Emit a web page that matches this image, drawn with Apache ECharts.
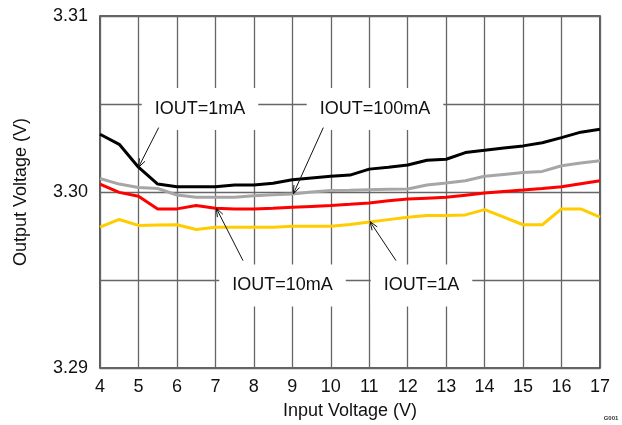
<!DOCTYPE html>
<html><head><meta charset="utf-8">
<script src="https://cdn.jsdelivr.net/npm/echarts@6/dist/echarts.min.js"></script>
<style>html,body{margin:0;padding:0;background:#fff}#c{width:622px;height:425px}</style>
</head><body><div id="c"></div>
<script>
const inputVoltage = [4,4.5,5,5.5,6,6.5,7,7.5,8,8.5,9,9.5,10,10.5,11,11.5,12,12.5,13,13.5,14,14.5,15,15.5,16,16.5,17];
const iout1mA = [3.30328,3.30271,3.30141,3.30045,3.3003,3.3003,3.3003,3.3004,3.3004,3.3005,3.3007,3.3008,3.30089,3.30096,3.3013,3.3014,3.30153,3.3018,3.30186,3.30224,3.30237,3.3025,3.30262,3.3028,3.30309,3.3034,3.30356];
const iout100mA = [3.30077,3.30045,3.30026,3.3002,3.29983,3.2997,3.2997,3.2997,3.29979,3.29985,3.29989,3.3000,3.30008,3.3001,3.30013,3.30015,3.30017,3.3004,3.30051,3.30064,3.30089,3.301,3.30111,3.30117,3.30149,3.30165,3.30177];
const iout10mA = [3.30045,3.29998,3.29976,3.29904,3.29904,3.29923,3.29908,3.29904,3.29904,3.29908,3.29913,3.29918,3.29923,3.2993,3.29938,3.2995,3.2996,3.29965,3.2997,3.29982,3.29994,3.30003,3.30011,3.3002,3.3003,3.30047,3.30064];
const iout1A = [3.298,3.29844,3.2981,3.29812,3.29814,3.29787,3.298,3.298,3.298,3.298,3.29806,3.29806,3.29806,3.29815,3.29829,3.29843,3.29857,3.29866,3.29866,3.2987,3.299,3.29857,3.29814,3.29814,3.29904,3.29904,3.29857];
const xTicks = {min:4, max:17, interval:1};
const yTicks = {min:3.29, max:3.31, interval:0.005};
const yLabelValues = [3.29, 3.30, 3.31];
const annotations = [
  {text:'IOUT=1mA',   at:[6.60,3.30472],  from:[5.526,3.30366], to:[5.0,3.3014]},
  {text:'IOUT=100mA', at:[11.15,3.30472], from:[9.806,3.30366], to:[9.026,3.29989]},
  {text:'IOUT=10mA',  at:[8.745,3.29469], from:[7.718,3.2961],  to:[7.024,3.29908]},
  {text:'IOUT=1A',    at:[12.36,3.29469], from:[11.696,3.2961], to:[11.02,3.29832]}
];

const font = 'Liberation Sans, Arial, sans-serif';
const chart = echarts.init(document.getElementById('c'));
function pairs(ys){ return inputVoltage.map((x,i)=>[x,ys[i]]); }
function line(name, ys, color){
  return {name, type:'line', data:pairs(ys), symbol:'none', smooth:false,
    lineStyle:{color, width:3}, itemStyle:{color}, z:3};
}
chart.setOption({
  animation:false,
  backgroundColor:'#fff',
  grid:{left:100,right:22,top:16,bottom:55,show:true,borderColor:'#333',borderWidth:1.6,backgroundColor:'#fff'},
  xAxis:{type:'value',min:xTicks.min,max:xTicks.max,interval:xTicks.interval,
    axisLine:{show:false},axisTick:{show:false},
    splitLine:{show:true,lineStyle:{color:'#666',width:1.3}},
    axisLabel:{color:'#111',fontSize:18,fontFamily:font,margin:10},
    name:'Input Voltage (V)',nameLocation:'middle',nameGap:34,
    nameTextStyle:{color:'#111',fontSize:18,fontFamily:font}},
  yAxis:{type:'value',min:yTicks.min,max:yTicks.max,interval:yTicks.interval,
    axisLine:{show:false},axisTick:{show:false},
    splitLine:{show:true,lineStyle:{color:'#666',width:1.3}},
    axisLabel:{color:'#111',fontSize:18,fontFamily:font,margin:12,
      formatter:function(v){
        for(const t of yLabelValues){ if(Math.abs(v-t)<1e-7) return t.toFixed(2); }
        return '';
      }},
    name:'Output Voltage (V)',nameLocation:'middle',nameGap:70,
    nameTextStyle:{color:'#111',fontSize:18,fontFamily:font}},
  series:[
    line('IOUT=1A', iout1A, '#ffcc00'),
    line('IOUT=10mA', iout10mA, '#ff0000'),
    line('IOUT=100mA', iout100mA, '#a6a6a6'),
    line('IOUT=1mA', iout1mA, '#000000')
  ]
});

const elements = [];
annotations.forEach(a=>{
  const c = chart.convertToPixel({gridIndex:0}, a.at);
  const f = chart.convertToPixel({gridIndex:0}, a.from);
  const t = chart.convertToPixel({gridIndex:0}, a.to);
  elements.push({type:'text', z:50, style:{text:a.text, x:c[0], y:c[1], align:'center', verticalAlign:'middle',
    font:'18px Liberation Sans, Arial, sans-serif', fill:'#111', backgroundColor:'#fff', padding:[12,13]}});
  elements.push({type:'line', z:60, shape:{x1:f[0],y1:f[1],x2:t[0],y2:t[1]}, style:{stroke:'#111',lineWidth:1}});
  const ang = Math.atan2(f[1]-t[1], f[0]-t[0]);
  const L = 9, sp = 0.35;
  const p1 = [t[0]+L*Math.cos(ang+sp), t[1]+L*Math.sin(ang+sp)];
  const p2 = [t[0]+L*Math.cos(ang-sp), t[1]+L*Math.sin(ang-sp)];
  elements.push({type:'polyline', z:60, shape:{points:[p1,[t[0],t[1]],p2]}, style:{stroke:'#111',lineWidth:1,fill:null}});
});
elements.push({type:'text', z:50, style:{text:'G001', x:611, y:418, align:'center', verticalAlign:'middle',
  font:'bold 6px Liberation Sans, Arial, sans-serif', fill:'#333'}});
chart.setOption({graphic:{elements}});
</script>
</body></html>
